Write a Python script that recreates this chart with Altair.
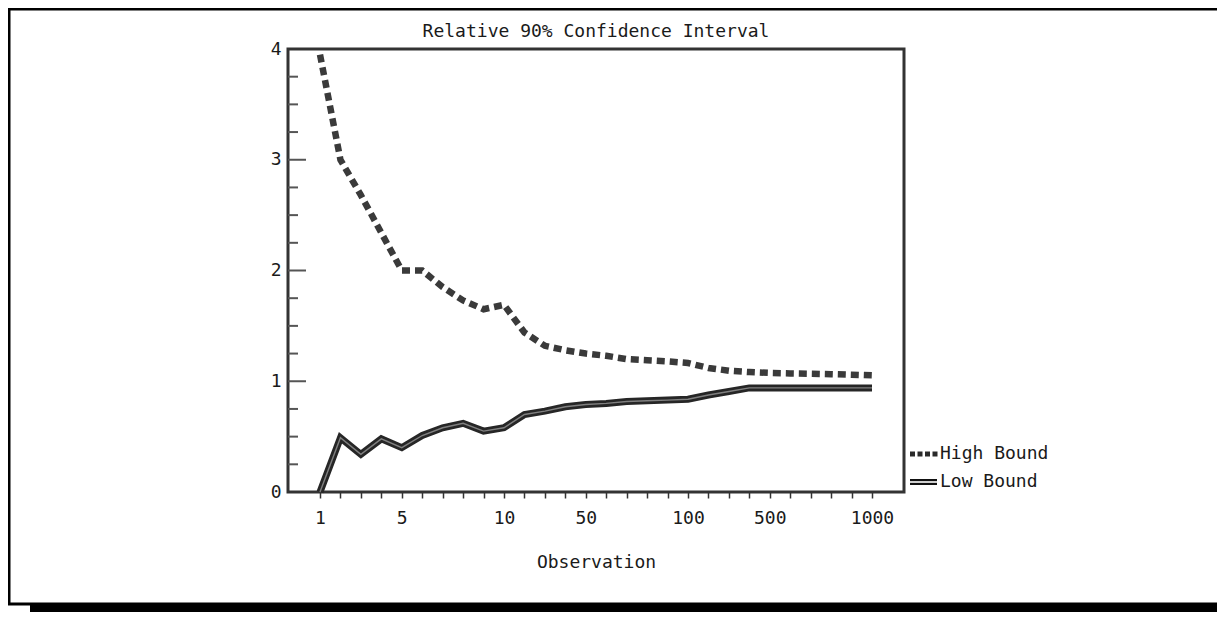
import altair as alt
import pandas as pd

# ---------------- data ----------------
obs_labels = ["1", "2", "3", "4", "5", "6", "7", "8", "9", "10",
              "20", "30", "40", "50", "60", "70", "80", "90", "100",
              "200", "300", "400", "500", "600", "700", "800", "900", "1000"]
high_bound = [3.95, 3.00, 2.68, 2.34, 2.00, 2.00, 1.85, 1.73, 1.65, 1.69,
              1.44, 1.32, 1.28, 1.25, 1.23, 1.20, 1.19, 1.18, 1.165,
              1.12, 1.095, 1.083, 1.075, 1.071, 1.068, 1.064, 1.059, 1.053]
low_bound = [0.00, 0.49, 0.34, 0.48, 0.40, 0.51, 0.58, 0.62, 0.55, 0.58,
             0.70, 0.73, 0.77, 0.79, 0.80, 0.817, 0.824, 0.83, 0.838,
             0.876, 0.907, 0.94, 0.94, 0.94, 0.94, 0.94, 0.94, 0.94]
shown_labels = ["1", "5", "10", "50", "100", "500", "1000"]
series_names = ["High Bound", "Low Bound"]
chart_title = "Relative 90% Confidence Interval"
y_major = [0, 1, 2, 3, 4]
y_major_inner = [1, 2, 3]
y_minor = [0.25, 0.5, 0.75, 1.25, 1.5, 1.75, 2.25, 2.5, 2.75, 3.25, 3.5, 3.75]

FONT = "DejaVu Sans Mono"
FS = 18
TXT = "#1a1a1a"

W_TOTAL, H_TOTAL = 1209, 604
PAD_L, PAD_T = 280, 41
PW, PH = 616, 443
R_EDGE = W_TOTAL - PAD_L
B_EDGE = H_TOTAL - PAD_T

high_df = pd.DataFrame({"obs": obs_labels, "v": high_bound})
low_df = pd.DataFrame({"obs": obs_labels, "v": low_bound})
minor_df = pd.DataFrame({"v": y_minor})
major_df = pd.DataFrame({"v": y_major_inner})
one = pd.DataFrame({"k": [0]})

label_list = ",".join("'%s'" % s for s in shown_labels)
x_enc = alt.X(
    "obs:O", sort=obs_labels,
    scale=alt.Scale(type="point", padding=0, range=[32, 584]),
    axis=alt.Axis(
        labelExpr="indexof([%s], datum.label) >= 0 ? datum.label : ''" % label_list,
        labelAngle=0, tickSize=6, tickColor="#333333", tickWidth=1.5,
        domain=False, grid=False, labelPadding=11,
        labelFont=FONT, labelFontSize=FS, labelColor=TXT,
        title="Observation", titleFont=FONT, titleFontSize=FS,
        titleFontWeight="normal", titleColor=TXT, titlePadding=26,
    ),
)
y_scale = alt.Scale(domain=[0, 4], nice=False, zero=True)
y_enc = alt.Y(
    "v:Q", scale=y_scale,
    axis=alt.Axis(values=y_major, format="d", ticks=False, tickSize=0,
                  domain=False, grid=False, labelPadding=7,
                  labelFont=FONT, labelFontSize=FS, labelColor=TXT, title=None),
)

# ---------------- decoration: outer frame with shadow ----------------
frame_left = alt.Chart(one).mark_rule(color="black", strokeWidth=3).encode(
    x=alt.value(-279), y=alt.value(-41), y2=alt.value(555))
frame_top = alt.Chart(one).mark_rule(color="black", strokeWidth=3).encode(
    x=alt.value(-280), x2=alt.value(R_EDGE), y=alt.value(-40))
frame_bottom = alt.Chart(one).mark_rule(color="black", strokeWidth=3).encode(
    x=alt.value(-280), x2=alt.value(R_EDGE), y=alt.value(555))
shadow = alt.Chart(one).mark_rect(color="black").encode(
    x=alt.value(-258), x2=alt.value(R_EDGE), y=alt.value(554), y2=alt.value(B_EDGE + 5))

# ---------------- title ----------------
title_txt = alt.Chart(one).mark_text(
    align="center", baseline="alphabetic", font=FONT, fontSize=FS, color=TXT).encode(
    x=alt.value(PW / 2), y=alt.value(-12), text=alt.value(chart_title))

# ---------------- inward y ticks ----------------
minor_ticks = alt.Chart(minor_df).mark_rule(color="#555555", strokeWidth=2).encode(
    y=y_enc, x=alt.value(0), x2=alt.value(10))
major_ticks = alt.Chart(major_df).mark_rule(color="#555555", strokeWidth=2).encode(
    y=y_enc, x=alt.value(0), x2=alt.value(18))

# ---------------- series ----------------
high_line = alt.Chart(high_df).mark_line(
    color="#3a3a3a", strokeWidth=6.5, strokeDash=[8, 5]).encode(x=x_enc, y=y_enc)
low_line = alt.Chart(low_df).mark_line(
    color="#262626", strokeWidth=7).encode(x=x_enc, y=y_enc)
low_inner = alt.Chart(low_df).mark_line(
    color="#808080", strokeWidth=1.4).encode(x=x_enc, y=y_enc)

# ---------------- legend ----------------
leg_high = alt.Chart(one).mark_rule(color="#2a2a2a", strokeWidth=5, strokeDash=[5, 2.5]).encode(
    x=alt.value(622), x2=alt.value(650), y=alt.value(405))
leg_low = alt.Chart(one).mark_rule(color="#111111", strokeWidth=6).encode(
    x=alt.value(622), x2=alt.value(649), y=alt.value(433))
leg_low_in = alt.Chart(one).mark_rule(color="white", strokeWidth=1.6).encode(
    x=alt.value(622), x2=alt.value(649), y=alt.value(433))
leg_txt_high = alt.Chart(one).mark_text(
    align="left", baseline="middle", font=FONT, fontSize=FS, color=TXT).encode(
    x=alt.value(652), y=alt.value(405), text=alt.value(series_names[0]))
leg_txt_low = alt.Chart(one).mark_text(
    align="left", baseline="middle", font=FONT, fontSize=FS, color=TXT).encode(
    x=alt.value(652), y=alt.value(433), text=alt.value(series_names[1]))

chart = alt.layer(
    frame_left, frame_top, frame_bottom, shadow, title_txt,
    minor_ticks, major_ticks,
    high_line, low_line, low_inner,
    leg_high, leg_low, leg_low_in, leg_txt_high, leg_txt_low,
).properties(
    width=PW, height=PH,
    padding={"left": PAD_L, "top": PAD_T, "right": W_TOTAL - PAD_L - PW,
             "bottom": H_TOTAL - PAD_T - PH},
    autosize=alt.AutoSizeParams(type="none"),
    background="white",
).configure_view(
    stroke="#333333", strokeWidth=3
)

chart.save("out.html", embed_options={"renderer": "svg", "actions": False})
